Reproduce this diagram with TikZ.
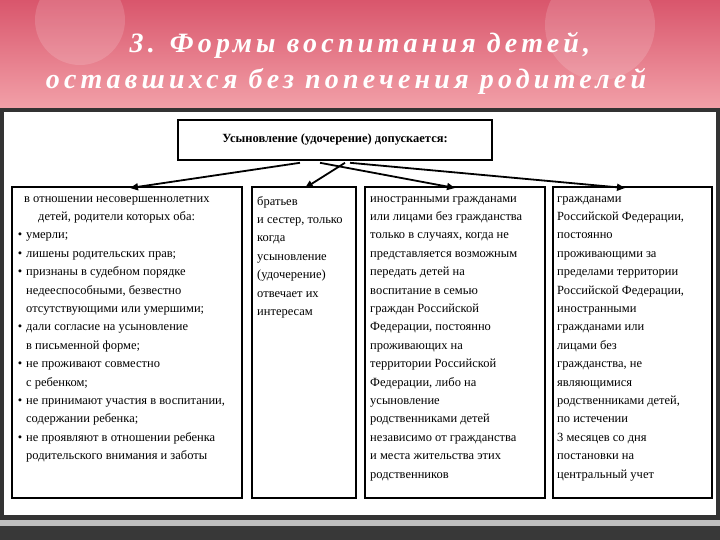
\documentclass[tikz,border=0pt]{standalone}
\usepackage{fontspec}
\setmainfont{Liberation Serif}
\newfontfamily\titlefont[LetterSpace=15]{Liberation Serif}
\usetikzlibrary{arrows.meta}
\definecolor{pinkA}{HTML}{D9566C}
\definecolor{pinkB}{HTML}{F2A0A8}
\begin{document}
\begin{tikzpicture}[x=1pt,y=-1pt,
  box/.style={draw=black,line width=1.6pt,fill=white},
  txt/.style={anchor=north west,align=left,inner sep=0pt,font=\fontsize{12.5}{18.4}\selectfont},
  arr/.style={line width=1.8pt,-{Triangle[length=8pt,width=7pt]}},
  ttl/.style={text=white,font=\titlefont\itshape\bfseries\fontsize{28}{32}\selectfont}]
\useasboundingbox (0,0) rectangle (720,540);
\shade[top color=pinkA,bottom color=pinkB] (0,0) rectangle (720,108);
\fill[white,opacity=0.15] (600,25) circle (55);
\fill[white,opacity=0.15] (80,20) circle (45);
\fill[black!80] (0,108) rectangle (720,520);
\fill[white] (4,112) rectangle (716,515);
\fill[black!25] (0,520) rectangle (720,526);
\fill[black!78] (0,526) rectangle (720,540);
\node[ttl] (t1) at (360,45) {3. Формы воспитания детей,};
\node[ttl] (t2) at (346,81) {оставшихся без попечения родителей};
\node[box,minimum width=314,minimum height=40,font=\bfseries\fontsize{12.5}{15}\selectfont] (top) at (335,140) {Усыновление (удочерение) допускается:};
\draw[box] (12,187) rectangle (242,498);
\draw[box] (252,187) rectangle (356,498);
\draw[box] (365,187) rectangle (545,498);
\draw[box] (553,187) rectangle (712,498);
\coordinate (b1) at (130,188);
\coordinate (b2) at (305,188);
\coordinate (b3) at (455,188);
\coordinate (b4) at (625,188);
\draw[arr] (top.south) ++(-35,2) -- (b1);
\draw[arr] (top.south) ++(10,2) -- (b2);
\draw[arr] (top.south) ++(-15,2) -- (b3);
\draw[arr] (top.south) ++(15,2) -- (b4);
\newcommand\bl{\llap{\textbullet\hspace{4pt}}}
\node[txt] (x1) at (26,196) {%
\hspace{-2pt}в отношении несовершеннолетних\\
\hspace{12pt}детей, родители которых оба:\\
\bl умерли;\\
\bl лишены родительских прав;\\
\bl признаны в судебном порядке\\
недееспособными, безвестно\\
отсутствующими или умершими;\\
\bl дали согласие на усыновление\\
в письменной форме;\\
\bl не проживают совместно\\
с ребенком;\\
\bl не принимают участия в воспитании,\\
содержании ребенка;\\
\bl не проявляют в отношении ребенка\\
родительского внимания и заботы};
\node[txt] (x2) at (257,196) {братьев\\и сестер, только\\когда\\усыновление\\(удочерение)\\отвечает их\\интересам};
\node[txt] (x3) at (370,196) {иностранными гражданами\\или лицами без гражданства\\только в случаях, когда не\\представляется возможным\\передать детей на\\воспитание в семью\\граждан Российской\\Федерации, постоянно\\проживающих на\\территории Российской\\Федерации, либо на\\усыновление\\родственниками детей\\независимо от гражданства\\и места жительства этих\\родственников};
\node[txt] (x4) at (557,196) {гражданами\\Российской Федерации,\\постоянно\\проживающими за\\пределами территории\\Российской Федерации,\\иностранными\\гражданами или\\лицами без\\гражданства, не\\являющимися\\родственниками детей,\\по истечении\\3 месяцев со дня\\постановки на\\центральный учет};
\end{tikzpicture}
\end{document}
